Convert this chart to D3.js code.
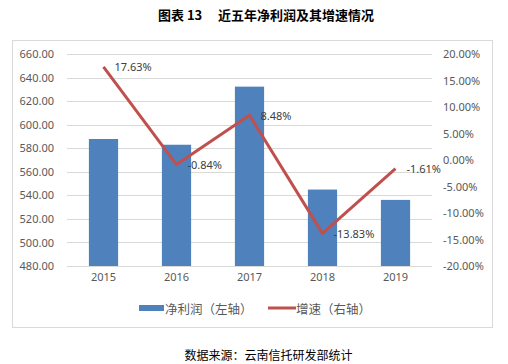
<!DOCTYPE html>
<html><head><meta charset="utf-8">
<script src="https://cdn.jsdelivr.net/npm/d3@7"></script>
<style>
html,body{margin:0;padding:0;background:#fff;}
svg{display:block;font-family:"Noto Sans CJK SC","Noto Sans",sans-serif;}
</style></head>
<body><svg id="c" width="508" height="364"></svg>
<script>
const years = ["2015","2016","2017","2018","2019"];
const netProfit = [588.0, 583.1, 632.5, 545.0, 536.2];
const growth = [17.63, -0.84, 8.48, -13.83, -1.61];
const leftTicks = [480,500,520,540,560,580,600,620,640,660];
const rightTicks = [-20,-15,-10,-5,0,5,10,15,20];
const titleA = "图表 13";
const titleB = "近五年净利润及其增速情况";
const source = "数据来源：云南信托研发部统计";
const legendLabels = ["净利润（左轴）","增速（右轴）"];

const loc = d3.formatLocale({decimal:".",thousands:",",grouping:[3],currency:["",""],minus:"-"});
const f2 = loc.format(".2f");

const svg = d3.select("#c");
const plot = {x0:67, x1:432, y0:54.3, y1:266};
const barColor="#4f81bd", lineColor="#c0504d", gridColor="#d9d9d9", tickColor="#595959";

svg.append("text").attr("x",158).attr("y",14)
  .attr("dominant-baseline","central").attr("font-size",13).attr("font-weight","bold")
  .attr("fill","#000").text(titleA);
svg.append("text").attr("x",218).attr("y",14)
  .attr("dominant-baseline","central").attr("font-size",13).attr("font-weight","bold")
  .attr("fill","#000").text(titleB);

svg.append("rect").attr("x",12.5).attr("y",40.5).attr("width",480).attr("height",287)
  .attr("fill","none").attr("stroke",gridColor).attr("stroke-width",1);

const x = d3.scaleBand().domain(years).range([plot.x0,plot.x1]).paddingInner(0.6).paddingOuter(0.3);
const yL = d3.scaleLinear().domain([480,660]).range([plot.y1,plot.y0]);
const yR = d3.scaleLinear().domain([-20,20]).range([plot.y1,plot.y0]);

svg.append("g").selectAll("line").data(leftTicks).join("line")
  .attr("x1",plot.x0).attr("x2",plot.x1)
  .attr("y1",d=>Math.round(yL(d))+0.5).attr("y2",d=>Math.round(yL(d))+0.5)
  .attr("stroke",gridColor).attr("stroke-width",1);

const gl = svg.append("g").attr("transform",`translate(${plot.x0-13},0)`)
  .call(d3.axisLeft(yL).tickValues(leftTicks).tickFormat(f2).tickSize(0).tickPadding(0));
gl.select(".domain").remove();
gl.selectAll("text").attr("font-size",11).attr("fill",tickColor).attr("font-family","'Noto Sans',sans-serif");

const gr = svg.append("g").attr("transform",`translate(${plot.x1+11},0)`)
  .call(d3.axisRight(yR).tickValues(rightTicks).tickFormat(d=>f2(d)+"%").tickSize(0).tickPadding(0));
gr.select(".domain").remove();
gr.selectAll("text").attr("font-size",11).attr("fill",tickColor).attr("font-family","'Noto Sans',sans-serif");

const gb = svg.append("g").attr("transform",`translate(0,${plot.y1+15})`)
  .call(d3.axisBottom(x).tickSize(0).tickPadding(0));
gb.select(".domain").remove();
gb.selectAll("text").attr("font-size",11).attr("fill",tickColor).attr("font-family","'Noto Sans',sans-serif").attr("dy","0");

svg.append("g").selectAll("rect").data(years).join("rect")
  .attr("x",d=>x(d)).attr("width",x.bandwidth())
  .attr("y",(d,i)=>yL(netProfit[i])).attr("height",(d,i)=>plot.y1-yL(netProfit[i]))
  .attr("fill",barColor);

const cx = d=>x(d)+x.bandwidth()/2;
const line = d3.line().x((d,i)=>cx(years[i])).y(d=>yR(d));
svg.append("path").datum(growth).attr("d",line).attr("fill","none")
  .attr("stroke",lineColor).attr("stroke-width",3).attr("stroke-linejoin","round");

svg.append("g").selectAll("text").data(growth).join("text")
  .attr("x",(d,i)=>cx(years[i])+11).attr("y",d=>yR(d))
  .attr("dominant-baseline","central").attr("font-size",11).attr("fill","#404040")
  .attr("font-family","'Noto Sans',sans-serif")
  .text(d=>f2(d)+"%");

const lg = svg.append("g");
lg.append("rect").attr("x",139).attr("y",305).attr("width",25).attr("height",6).attr("fill",barColor);
lg.append("text").attr("x",165).attr("y",308).attr("dominant-baseline","central")
  .attr("font-size",12.5).attr("fill",tickColor).text(legendLabels[0]);
lg.append("line").attr("x1",268).attr("x2",296).attr("y1",308).attr("y2",308)
  .attr("stroke",lineColor).attr("stroke-width",3);
lg.append("text").attr("x",296).attr("y",308).attr("dominant-baseline","central")
  .attr("font-size",12.5).attr("fill",tickColor).text(legendLabels[1]);

svg.append("text").attr("x",268.5).attr("y",354).attr("text-anchor","middle")
  .attr("dominant-baseline","central").attr("font-size",12).attr("fill","#000").text(source);
</script></body></html>
